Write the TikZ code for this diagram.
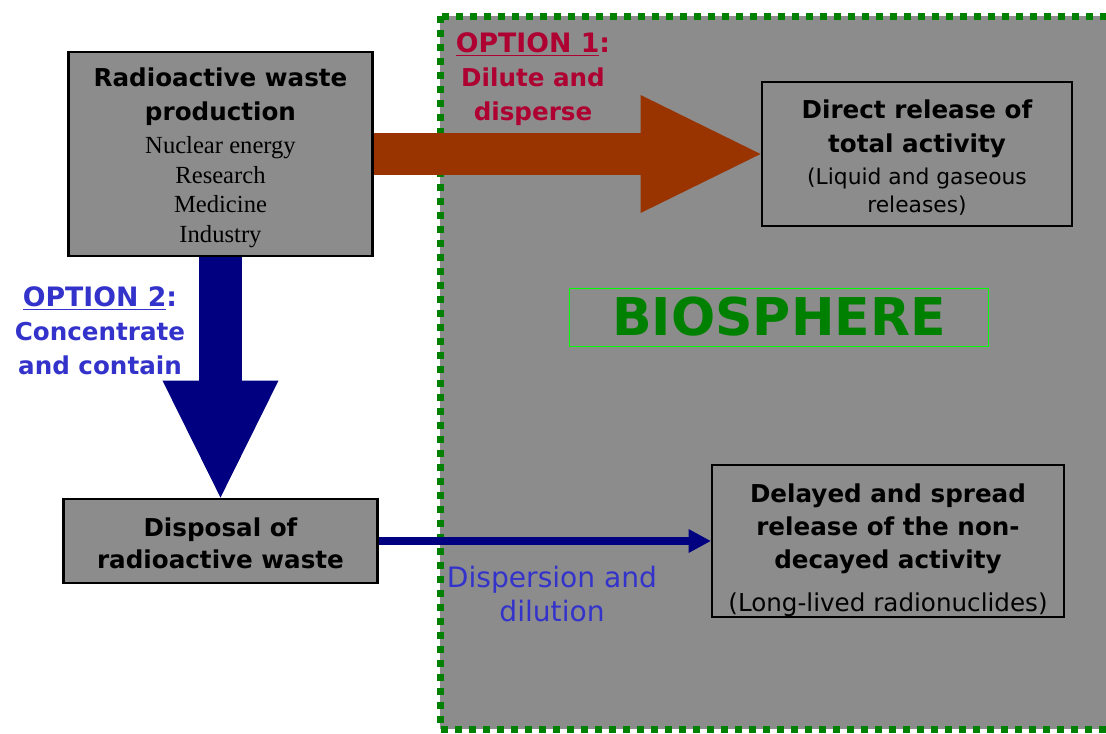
\documentclass[tikz,border=0pt]{standalone}
\usepackage{fontspec}
\setsansfont{DejaVu Sans}
\newfontfamily\timesfont{Liberation Serif}
\usetikzlibrary{arrows.meta,backgrounds}

\definecolor{arrowbrown}{RGB}{153,51,0}
\definecolor{navyarrow}{RGB}{0,0,128}
\definecolor{optred}{RGB}{175,0,50}
\definecolor{optblue}{RGB}{51,51,204}
\definecolor{biogreen}{RGB}{0,128,0}
\definecolor{lightgreen}{RGB}{0,255,0}
\definecolor{hatchgray}{RGB}{140,140,140}

\newcommand{\boldline}{\sffamily\bfseries\fontsize{17.5}{24}\selectfont}
\newcommand{\plainline}[1]{\sffamily\mdseries\fontsize{#1}{24}\selectfont}
\newcommand{\serifline}{\timesfont\mdseries\fontsize{17.5}{21}\selectfont}
\newcommand{\topstrut}[1]{\rule{0pt}{#1}}
\newcommand{\optword}[1]{{\fontsize{19}{24}\selectfont\underline{#1}:}}

\tikzset{
  wastebox/.style={draw=black, line width=2pt, fill=hatchgray, align=center,
    inner sep=0pt, font=\boldline},
  optlabel/.style={align=center, inner sep=0pt, font=\boldline},
  fatarrow/.style={line width=#1},
}

\begin{document}
\begin{tikzpicture}[x=0.025cm,y=-0.025cm]
  \useasboundingbox (0,0) rectangle (1106,733);

  % boxes
  \node[wastebox, minimum width=7.6cm, minimum height=5.1cm] (prod) at (220.5,154)
    {\topstrut{19pt}Radioactive waste\\production\\[-0.7pt]
     {\serifline Nuclear energy}\\[-2.9pt]
     {\serifline Research}\\[-2.9pt]
     {\serifline Medicine}\\[-2.9pt]
     {\serifline Industry}};
  \node[wastebox, minimum width=7.75cm, minimum height=3.6cm] (direct) at (917,154)
    {\topstrut{18.3pt}Direct release of\\total activity\\[-1pt]
     {\plainline{15.5}(Liquid and gaseous}\\[-4pt]
     {\plainline{15.5}releases)}};
  \node[wastebox, minimum width=7.85cm, minimum height=2.1cm] (disposal) at (220.5,541)
    {\topstrut{16.2pt}Disposal of\\[-1.2pt]radioactive waste};
  \node[wastebox, minimum width=8.8cm, minimum height=3.8cm] (delayed) at (888,541)
    {\topstrut{26pt}Delayed and spread\\release of the non-\\[-0.7pt]decayed activity\\[6.5pt]
     {\plainline{17.5}(Long-lived radionuclides)}};
  \node[draw=lightgreen, line width=0.7pt, minimum width=10.45cm, minimum height=1.45cm,
    text=biogreen, font=\sffamily\bfseries\fontsize{37}{40}\selectfont] (bio) at (779,317)
    {BIOSPHERE};

  % labels
  \node[optlabel, text=optred] (opt1) at (533,79)
    {\optword{OPTION 1}\\Dilute and\\disperse};
  \node[optlabel, text=optblue] (opt2) at (100,331)
    {\optword{OPTION 2}\\Concentrate\\[0.5pt]and contain};
  \node[align=center, inner sep=0pt, text=optblue, font=\plainline{20}] (disp) at (552,594)
    {Dispersion and\\[-0.5pt]dilution};

  \begin{scope}[on background layer]
    \draw[biogreen, fill=hatchgray, line width=0.175cm, dash pattern=on 0.175cm off 0.175cm]
      (440,16) rectangle (1125,729);
    \draw[arrowbrown, fatarrow=1.05cm,
      -{Triangle[length=3cm, width=2.95cm, line width=0pt]}] (prod.east) -- (direct.west);
    \draw[navyarrow, fatarrow=1.05cm,
      -{Triangle[length=2.925cm, width=2.9cm, line width=0pt]}] (prod.south) -- (disposal.north);
    \draw[navyarrow, fatarrow=0.2cm,
      -{Triangle[length=0.55cm, width=0.6cm, line width=0pt]}] (disposal.east) -- (delayed.west);
  \end{scope}
\end{tikzpicture}
\end{document}
